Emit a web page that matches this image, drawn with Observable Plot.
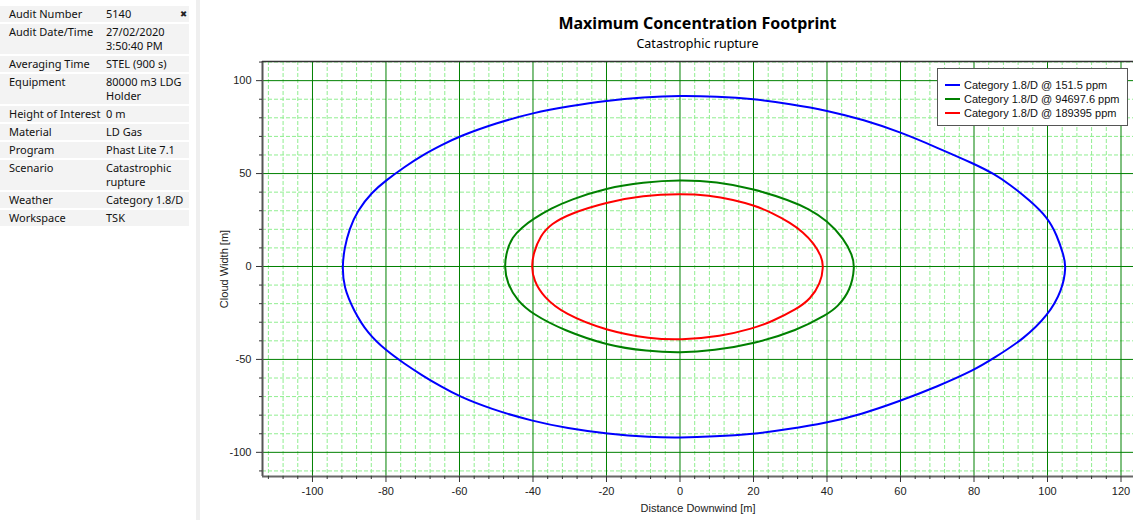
<!DOCTYPE html>
<html>
<head>
<meta charset="utf-8">
<script src="https://cdn.jsdelivr.net/npm/d3@7"></script>
<script src="https://cdn.jsdelivr.net/npm/@observablehq/plot@0.6"></script>
<style>
  html, body { margin: 0; padding: 0; background: #fff; }
  body { width: 1133px; height: 520px; overflow: hidden; position: relative; font-family: "Noto Sans", "DejaVu Sans", sans-serif; color: #111; }
  #info { position: absolute; left: 0; top: 6px; width: 189px; font-size: 11px; }
  #info .row { display: flex; background: #f3f3f3; margin-bottom: 2px; line-height: 14px; padding: 1px 0 1px 0; position: relative; }
  #info .row.tall { padding-bottom: 2px; }
  #info .lab { width: 97px; padding-left: 9px; box-sizing: content-box; white-space: nowrap; }
  #info .val { white-space: pre-line; }
  #info .close { position: absolute; left: 180px; top: 1px; font-size: 8.5px; font-weight: bold; color: #222; }
  #divider { position: absolute; left: 196px; top: 0; width: 4px; height: 520px; background: #efefef; }
  #title { position: absolute; left: 262px; width: 871px; top: 12px; text-align: center; font-weight: bold; font-size: 16px; line-height: 22px; color: #000; }
  #subtitle { position: absolute; left: 262px; width: 871px; top: 36px; text-align: center; font-size: 12.5px; line-height: 16px; color: #000; }
  #chart { position: absolute; left: 200px; top: 52px; }
  #legend { position: absolute; left: 937px; top: 68px; width: 191px; height: 58px; border: 1px solid #555; background: #fff; box-sizing: border-box; padding-top: 9px; font-family: "Liberation Sans", Arial, sans-serif; font-size: 11px; color: #111; }
  #legend .item { height: 14px; line-height: 14px; display: flex; align-items: center; }
  #legend .swatch { width: 15px; height: 2px; margin-left: 7px; margin-right: 4px; }
</style>
</head>
<body>
<div id="info"></div>
<div id="divider"></div>
<div id="title">Maximum Concentration Footprint</div>
<div id="subtitle">Catastrophic rupture</div>
<div id="chart"></div>
<div id="legend"></div>
<script>
// Audit details shown in the side panel
const infoLabels = ["Audit Number", "Audit Date/Time", "Averaging Time", "Equipment", "Height of Interest",
  "Material", "Program", "Scenario", "Weather", "Workspace"];
const infoValues = ["5140", "27/02/2020\n3:50:40 PM", "STEL (900 s)", "80000 m3 LDG\nHolder", "0 m",
  "LD Gas", "Phast Lite 7.1", "Catastrophic\nrupture", "Category 1.8/D", "TSK"];

// Footprint contours: [distance downwind (m), cloud width (m)]
const seriesLabels = ["Category 1.8/D @ 151.5 ppm", "Category 1.8/D @ 94697.6 ppm", "Category 1.8/D @ 189395 ppm"];
const seriesColors = ["#0000ff", "#008000", "#ff0000"];

const footprint151 = [
  [-91.9, 0], [-91.3, 10], [-90.0, 20], [-87.8, 30], [-83.8, 40], [-80, 46.3], [-75, 53.5], [-70, 60],
  [-65, 65.2], [-60, 70.1], [-50, 77.2], [-40, 82.7], [-30, 86.3], [-20, 89.3], [-10, 91.1], [0, 92],
  [10, 91.5], [20, 90.2], [30, 87.4], [40, 84], [50, 78.9], [60, 72.3], [70, 63.9], [80, 55.3],
  [85.4, 49.9], [90, 43.8], [95, 35.8], [100, 26.5], [102.6, 16.7], [104.4, 5.9], [105.1, 0],
  [104.0, -12.9], [100.1, -26.4], [93.6, -38.9], [85.4, -49.3], [80, -55.8], [70, -64.6], [60, -72.3],
  [49.1, -79.7], [40, -84.1], [29.2, -87.7], [20, -90.1], [9.2, -91.5], [0, -92.1], [-8, -91.9],
  [-19.8, -90.1], [-30.7, -87], [-40, -83.3], [-51.6, -76.6], [-60, -70], [-65, -64.6], [-70, -58.8],
  [-75, -52.3], [-80, -45.2], [-85, -36], [-88.8, -23.7], [-91.5, -11.1]
];
const footprint94697 = [
  [-47.8, 0], [-47.2, 8], [-45.7, 15.8], [-43, 21], [-40, 25.5], [-35, 31.3], [-30, 35.8], [-20, 42.3],
  [-10, 45.3], [0, 46.6], [10, 45.6], [20, 41.8], [30, 35.5], [35, 31], [40, 24.8], [44.6, 15],
  [46.9, 6], [47.6, 0], [46.4, -12.9], [42.8, -21.9], [40, -25.8], [31.9, -34.4], [20, -41.6],
  [9.2, -45.2], [0, -46.5], [-8.9, -45.6], [-19.8, -42.5], [-31.6, -34.4], [-40, -25.8], [-44.3, -18.3],
  [-47, -9.3]
];
const footprint189395 = [
  [-40.4, 0], [-39.9, 7], [-38, 16.7], [-35, 23], [-30, 28.4], [-20, 34.6], [-10, 38.2], [0, 39.1],
  [8, 38.3], [14.6, 35.9], [20, 33], [25, 29], [30, 23.5], [33.5, 18.5], [36.4, 12.5], [38.5, 5.5],
  [39.1, 0], [38.2, -9.3], [35.5, -17.4], [31.9, -22.8], [24.6, -30], [20, -33.2], [11, -37.7],
  [0, -39.5], [-8, -38.9], [-19.8, -34.8], [-31.6, -25.5], [-37.1, -16.5], [-39.8, -7.5]
];

// Axis extents and ticks
const xDomain = [-113.6, 123.4];
const yDomain = [-113, 110.3];
const xMajorTicks = [-100, -80, -60, -40, -20, 0, 20, 40, 60, 80, 100, 120];
const yMajorTicks = [-100, -50, 0, 50, 100];
const xMinorTicks = d3.range(-112, 121, 4).filter(v => v % 20 !== 0);
const yMinorTicks = d3.range(-110, 111, 10).filter(v => v % 50 !== 0);

// Side panel
const info = d3.select("#info");
infoLabels.forEach((lab, i) => {
  const row = info.append("div").attr("class", "row");
  row.append("div").attr("class", "lab").text(lab);
  row.append("div").attr("class", "val").text(infoValues[i]);
  if (i === 0) row.append("div").attr("class", "close").text("\u2716");
});

// Long table of contour points
const contours = [footprint151, footprint94697, footprint189395].flatMap((pts, i) =>
  pts.map(([x, y]) => ({x, y, series: seriesLabels[i]})));

const axisColor = "#333";
const plain = d => String(d);
const chart = Plot.plot({
  width: 933,
  height: 468,
  marginLeft: 62,
  marginRight: 0,
  marginTop: 9,
  marginBottom: 44,
  style: {fontFamily: '"Liberation Sans", Arial, sans-serif', fontSize: "11px", color: "#222", background: "transparent", overflow: "visible"},
  x: {domain: xDomain},
  y: {domain: yDomain},
  color: {domain: seriesLabels, range: seriesColors},
  marks: [
    Plot.ruleX(xMinorTicks, {stroke: "#90ee90", strokeWidth: 1, strokeDasharray: "4,2"}),
    Plot.ruleY(yMinorTicks, {stroke: "#90ee90", strokeWidth: 1, strokeDasharray: "4,2"}),
    Plot.ruleX(xMajorTicks, {stroke: "#008000", strokeWidth: 1}),
    Plot.ruleY(yMajorTicks, {stroke: "#008000", strokeWidth: 1}),
    Plot.line(contours, {x: "x", y: "y", z: "series", stroke: "series", strokeWidth: 2, curve: "basis-closed"}),
    Plot.ruleX([xDomain[0]], {stroke: "#555", strokeWidth: 2}),
    Plot.ruleY([yDomain[0]], {stroke: "#666", strokeWidth: 2}),
    Plot.ruleY([yDomain[1]], {stroke: "#333", strokeWidth: 1.5}),
    Plot.axisX(xMinorTicks, {tickSize: 3, tickFormat: () => "", label: null, stroke: axisColor}),
    Plot.axisX(xMajorTicks, {tickSize: 6, tickPadding: 5, stroke: axisColor, tickFormat: plain,
      label: "Distance Downwind [m]", labelAnchor: "center", labelArrow: "none", labelOffset: 35}),
    Plot.axisY(yMinorTicks, {tickSize: 3, tickFormat: () => "", label: null, stroke: axisColor}),
    Plot.axisY(yMajorTicks, {tickSize: 6, tickPadding: 5, stroke: axisColor, tickFormat: plain,
      label: "Cloud Width [m]", labelAnchor: "center", labelArrow: "none", labelOffset: 42})
  ]
});
document.getElementById("chart").appendChild(chart);

// Legend box
const legend = d3.select("#legend");
seriesLabels.forEach((lab, i) => {
  const item = legend.append("div").attr("class", "item");
  item.append("div").attr("class", "swatch").style("background", seriesColors[i]);
  item.append("span").text(lab);
});
</script>
</body>
</html>
